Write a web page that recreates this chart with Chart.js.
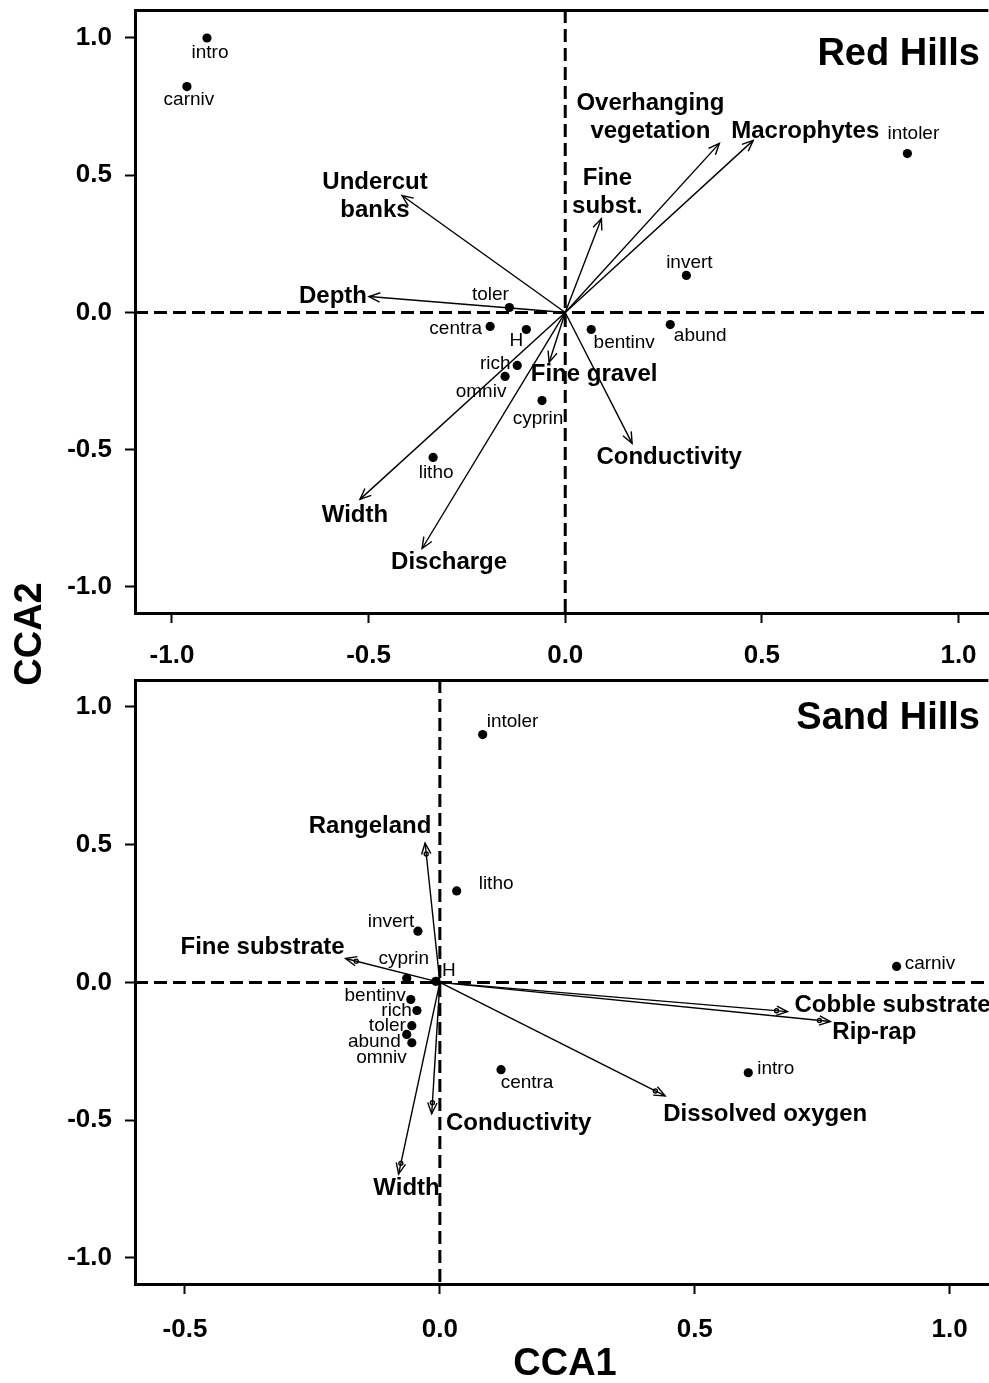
<!DOCTYPE html>
<html>
<head>
<meta charset="utf-8">
<title>CCA biplots - Red Hills / Sand Hills</title>
<script src="https://cdn.jsdelivr.net/npm/chart.js@4.4.1/dist/chart.umd.min.js"></script>
<style>
  body { margin: 0; background: #fff; }
  #wrap { position: relative; width: 989px; height: 1383px; overflow: hidden; }
  #wrap canvas { position: absolute; left: 0; }
  .axis-title { position: absolute; font: bold 38px "Liberation Sans", Arial, sans-serif; color: #000; text-align: center; }
</style>
</head>
<body>
<div id="wrap">
  <canvas id="red" width="993" height="672" style="top:0"></canvas>
  <canvas id="sand" width="993" height="711" style="top:672px"></canvas>
  <div class="axis-title" style="left:-72px;top:614px;width:200px;height:40px;line-height:40px;transform:rotate(-90deg);">CCA2</div>
  <div class="axis-title" style="left:465px;top:1341px;width:200px;height:42px;line-height:42px;">CCA1</div>
</div>
<script>
// ---- Red Hills ----
const redSpecies  = ['intro', 'carniv', 'intoler', 'invert', 'toler', 'centra', 'H', 'bentinv', 'abund', 'rich', 'omniv', 'cyprin', 'litho'];
const redSpeciesX = [-0.911, -0.962, 0.870, 0.308, -0.142, -0.191, -0.099, 0.066, 0.267, -0.122, -0.153, -0.059, -0.336];
const redSpeciesY = [1.000, 0.823, 0.579, 0.135, 0.018, -0.051, -0.062, -0.062, -0.044, -0.193, -0.233, -0.321, -0.528];

const redVars  = ['Undercut\nbanks', 'Depth', 'Fine\nsubst.', 'Overhanging\nvegetation', 'Macrophytes', 'Fine gravel', 'Conductivity', 'Width', 'Discharge'];
const redVarX  = [-0.415, -0.499, 0.092, 0.392, 0.478, -0.041, 0.170, -0.522, -0.364];
const redVarY  = [0.426, 0.058, 0.342, 0.616, 0.627, -0.182, -0.477, -0.681, -0.860];

const redXTicks = [-1.0, -0.5, 0.0, 0.5, 1.0];
const redYTicks = [-1.0, -0.5, 0.0, 0.5, 1.0];

// ---- Sand Hills ----
const sandSpecies  = ['intoler', 'litho', 'invert', 'cyprin', 'H', 'bentinv', 'rich', 'toler', 'abund', 'omniv', 'carniv', 'centra', 'intro'];
const sandSpeciesX = [0.084, 0.033, -0.043, -0.065, -0.008, -0.057, -0.045, -0.055, -0.065, -0.055, 0.896, 0.120, 0.605];
const sandSpeciesY = [0.900, 0.332, 0.186, 0.015, 0.004, -0.062, -0.102, -0.157, -0.189, -0.219, 0.058, -0.317, -0.328];

const sandVars = ['Rangeland', 'Fine substrate', 'Cobble substrate', 'Rip-rap', 'Dissolved oxygen', 'Conductivity', 'Width'];
const sandVarX = [-0.029, -0.185, 0.682, 0.766, 0.442, -0.016, -0.081];
const sandVarY = [0.506, 0.087, -0.106, -0.142, -0.412, -0.477, -0.696];

const sandXTicks = [-0.5, 0.0, 0.5, 1.0];
const sandYTicks = [-1.0, -0.5, 0.0, 0.5, 1.0];

// label placement (pixel offsets from the mark), kept apart from the data
const redSpeciesLab  = [[3,15,'center'],[2,13,'center'],[6,-20,'center'],[3,-13,'center'],[-19,-13,'center'],[-8,2,'right'],[-10,11,'center'],[33,13,'center'],[30,11,'center'],[-22,-2,'center'],[-24,15,'center'],[-4,18,'center'],[3,15,'center']];
const redVarLab      = [[-27,1,'center'],[-36,0,'center'],[6,-26,'center'],[-69,-26,'center'],[52,-9,'center'],[45,12,'center'],[37,14,'center'],[-5,16,'center'],[27,14,'center']];
const sandSpeciesLab = [[4,-13,'left'],[22,-7,'left'],[-27,-9,'center'],[-3,-20,'center'],[13,-11,'center'],[-5,-4,'right'],[-5,0,'right'],[-6,0,'right'],[-6,7,'right'],[-5,15,'right'],[8,-3,'left'],[26,13,'center'],[9,-4,'left']];
const sandVarLab     = [[-55,-17,'center'],[-83,-11,'center'],[7,-6,'left'],[44,11,'center'],[100,18,'center'],[87,10,'center'],[8,14,'center']];

const FONT = '"Liberation Sans", Arial, sans-serif';

function drawArrow(ctx, x0, y0, x1, y1, ring) {
  ctx.beginPath(); ctx.moveTo(x0, y0); ctx.lineTo(x1, y1); ctx.stroke();
  const a = Math.atan2(y1 - y0, x1 - x0), L = 12, w = 0.40;
  ctx.beginPath();
  ctx.moveTo(x1 - L * Math.cos(a - w), y1 - L * Math.sin(a - w));
  ctx.lineTo(x1, y1);
  ctx.lineTo(x1 - L * Math.cos(a + w), y1 - L * Math.sin(a + w));
  ctx.stroke();
  if (ring) {
    ctx.beginPath();
    ctx.arc(x1 - 11 * Math.cos(a), y1 - 11 * Math.sin(a), 2, 0, Math.PI * 2);
    ctx.stroke();
  }
}

function makeBiplot(cfg) {
  return {
    id: 'biplot',
    beforeDatasetsDraw(chart) {
      const { ctx, chartArea: a, scales: { x, y } } = chart;
      const x0 = x.getPixelForValue(0), y0 = y.getPixelForValue(0);
      ctx.save();
      ctx.strokeStyle = '#000';
      ctx.lineWidth = 3;
      ctx.beginPath(); ctx.moveTo(a.left, a.top + 0.5); ctx.lineTo(a.right, a.top + 0.5); ctx.stroke();
      ctx.setLineDash([13, 6]);
      ctx.beginPath(); ctx.moveTo(a.left, y0); ctx.lineTo(a.right, y0); ctx.stroke();
      ctx.beginPath(); ctx.moveTo(x0, a.top); ctx.lineTo(x0, a.bottom); ctx.stroke();
      ctx.restore();
    },
    afterDatasetsDraw(chart) {
      const { ctx, scales: { x, y } } = chart;
      const x0 = x.getPixelForValue(0), y0 = y.getPixelForValue(0);
      ctx.save();
      ctx.strokeStyle = '#000';
      ctx.fillStyle = '#000';
      ctx.lineWidth = 1.4;
      cfg.vars.forEach((name, i) => {
        const px = x.getPixelForValue(cfg.vx[i]), py = y.getPixelForValue(cfg.vy[i]);
        drawArrow(ctx, x0, y0, px, py, cfg.ring);
        const [dx, dy, al] = cfg.varLab[i];
        const lines = name.split('\n');
        ctx.font = 'bold 24px ' + FONT;
        ctx.textAlign = al;
        ctx.textBaseline = 'middle';
        lines.forEach((ln, k) => ctx.fillText(ln, px + dx, py + dy + (k - (lines.length - 1) / 2) * 28));
      });
      ctx.font = '19px ' + FONT;
      ctx.textBaseline = 'middle';
      cfg.species.forEach((name, i) => {
        const px = x.getPixelForValue(cfg.sx[i]), py = y.getPixelForValue(cfg.sy[i]);
        const [dx, dy, al] = cfg.spLab[i];
        ctx.textAlign = al;
        ctx.fillText(name, px + dx, py + dy);
      });
      // panel title, right-aligned against the visible edge
      ctx.font = 'bold 38px ' + FONT;
      ctx.textAlign = 'right';
      ctx.fillText(cfg.title, 980, chart.chartArea.top + cfg.titleDy);
      ctx.restore();
    }
  };
}

function makeChart(id, o) {
  const canvas = document.getElementById(id);
  const axisH = canvas.height - o.plotBottom;
  const tickFont = { family: FONT, size: 26, weight: 'bold' };
  return new Chart(canvas.getContext('2d'), {
    type: 'scatter',
    data: {
      datasets: [{
        data: o.sx.map((v, i) => ({ x: v, y: o.sy[i] })),
        backgroundColor: '#000',
        borderColor: '#000',
        pointRadius: 4.6,
        pointBorderWidth: 0
      }]
    },
    options: {
      responsive: false,
      animation: false,
      devicePixelRatio: 1,
      layout: { padding: { top: o.padTop, left: 0, right: 0, bottom: 0 } },
      plugins: { legend: { display: false }, tooltip: { enabled: false } },
      scales: {
        x: {
          type: 'linear', min: o.xMin, max: o.xMax,
          afterBuildTicks: s => { s.ticks = o.xTicks.map(v => ({ value: v })); },
          afterFit: s => { s.height = axisH; s.paddingLeft = 0; s.paddingRight = 0; },
          grid: { drawOnChartArea: false, drawTicks: true, tickLength: 10, tickWidth: 2, color: '#000' },
          border: { display: true, width: 3, color: '#000' },
          ticks: { color: '#000', font: tickFont, padding: o.xPad, maxRotation: 0, autoSkip: false,
                   callback: v => (Math.abs(v) < 1e-9 ? 0 : v).toFixed(1) }
        },
        y: {
          type: 'linear', min: o.yMin, max: o.yMax,
          afterBuildTicks: s => { s.ticks = o.yTicks.map(v => ({ value: v })); },
          afterFit: s => { s.width = 135; s.paddingTop = 0; s.paddingBottom = 0; },
          grid: { drawOnChartArea: false, drawTicks: true, tickLength: 10, tickWidth: 2, color: '#000' },
          border: { display: true, width: 3, color: '#000' },
          ticks: { color: '#000', font: tickFont, padding: 13, autoSkip: false,
                   callback: v => (Math.abs(v) < 1e-9 ? 0 : v).toFixed(1) }
        }
      }
    },
    plugins: [makeBiplot(o)]
  });
}

makeChart('red', {
  species: redSpecies, sx: redSpeciesX, sy: redSpeciesY, spLab: redSpeciesLab,
  vars: redVars, vx: redVarX, vy: redVarY, varLab: redVarLab, ring: false,
  title: 'Red Hills', titleDy: 45, xPad: 17,
  xMin: -1.094, xMax: 1.076, yMin: -1.095, yMax: 1.102,
  xTicks: redXTicks, yTicks: redYTicks, padTop: 10, plotBottom: 613
});

makeChart('sand', {
  species: sandSpecies, sx: sandSpeciesX, sy: sandSpeciesY, spLab: sandSpeciesLab,
  vars: sandVars, vx: sandVarX, vy: sandVarY, varLab: sandVarLab, ring: true,
  title: 'Sand Hills', titleDy: 39, xPad: 20,
  xMin: -0.598, xMax: 1.076, yMin: -1.095, yMax: 1.098,
  xTicks: sandXTicks, yTicks: sandYTicks, padTop: 8, plotBottom: 612
});
</script>
</body>
</html>
